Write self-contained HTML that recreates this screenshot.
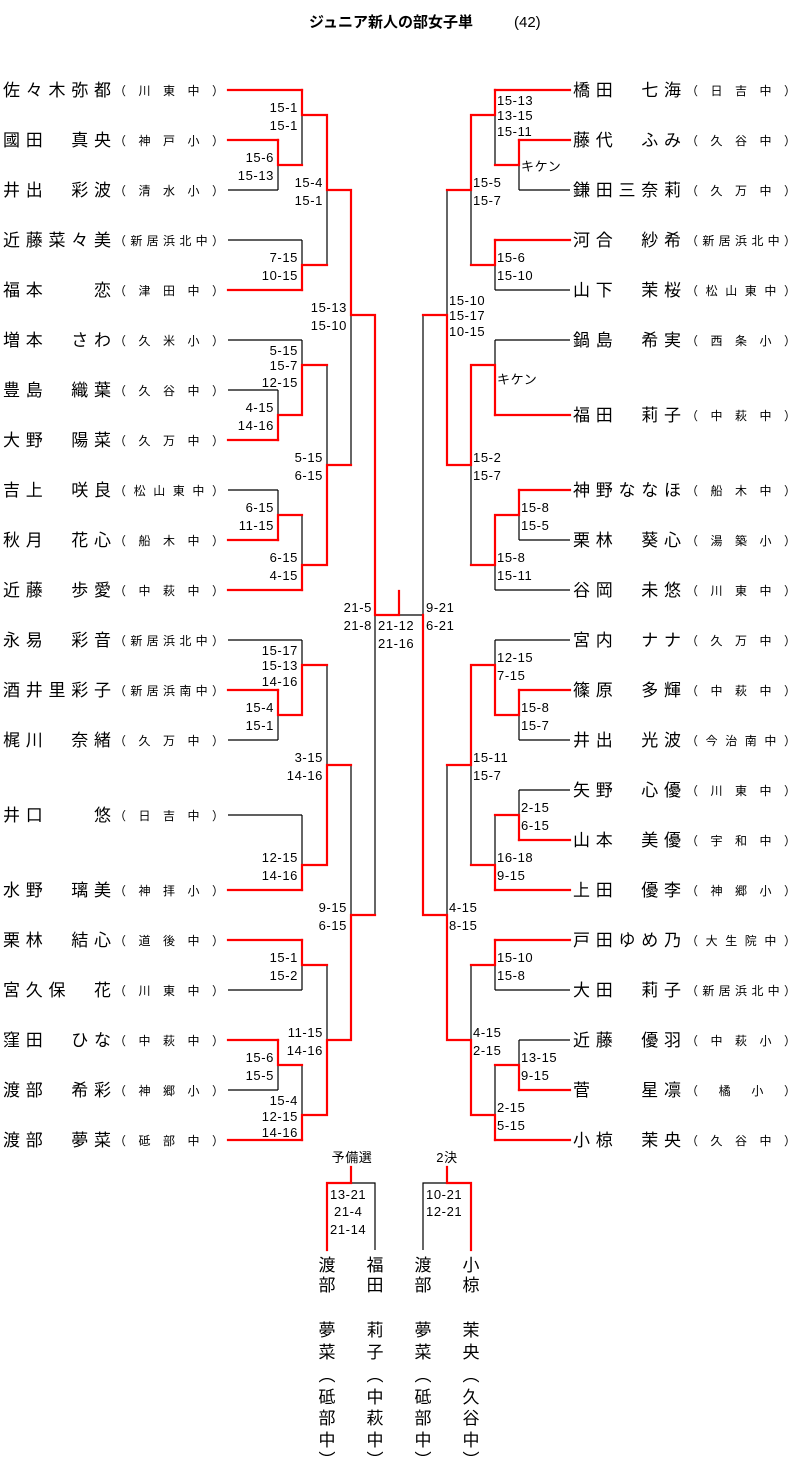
<!DOCTYPE html>
<html><head><meta charset="utf-8"><style>
html,body{margin:0;padding:0;background:#fff;}
svg{display:block;}
text{font-family:"Liberation Sans","Noto Sans CJK JP",sans-serif;fill:#000;}
.n{font-size:17px;}
.s{font-size:12px;}
.c{font-size:13px;letter-spacing:0.6px;}
.ce{font-size:13px;letter-spacing:0.6px;text-anchor:end;}
.v{font-size:17px;text-anchor:middle;}
</style></head><body>
<svg width="799" height="1471" viewBox="0 0 799 1471" xmlns="http://www.w3.org/2000/svg">
<text x="309" y="27" style="font-size:15px;font-weight:bold">ジュニア新人の部女子単</text>
<text x="514" y="27" style="font-size:15px">(42)</text>

<g fill="none" stroke="#000" stroke-width="1.2">
<path d="M228 190H278M228 240H302M228 340H302M228 390H278M228 490H278M228 640H302M228 740H278M228 815H302M228 990H302M228 1090H278"/>
<path d="M278 165V190M302 115V165M302 240V265M327 190V265M278 390V415M302 340V365M278 490V515M302 515V565M327 365V465M351 315V465M278 715V740M302 640V665M302 815V865M327 665V765M302 965V990M278 1065V1090M302 1065V1115M327 965V1040M351 765V915M375 615V915M399 615H423"/>
<path d="M519 190H570M495 290H570M495 340H570M519 540H570M495 590H570M495 640H570M519 740H570M519 790H570M495 990H570M519 1040H570"/>
<path d="M519 165V190M495 115V165M495 265V290M471 190V265M495 340V365M519 515V540M495 565V590M471 465V565M447 190V315M519 715V740M495 640V665M519 790V815M495 815V865M471 765V865M495 965V990M519 1040V1065M495 1065V1115M471 965V1040M447 765V915M423 315V615"/>
<path d="M351 1183H375V1250M447 1183H423V1250"/>
</g>
<g fill="none" stroke="#f00" stroke-width="2.2" stroke-linejoin="miter" stroke-linecap="square">
<path d="M228 90H302M228 140H278M228 290H302M228 440H278M228 540H278M228 590H302M228 690H278M228 890H302M228 940H302M228 1040H278M228 1140H302"/>
<path d="M278 140V165H302M302 90V115H327M302 290V265H327M327 115V190H351M278 440V415H302M302 415V365H327M278 540V515H302M302 590V565H327M327 565V465H351M351 190V315H375M278 690V715H302M302 715V665H327M302 890V865H327M327 865V765H351M302 940V965H327M278 1040V1065H302M302 1140V1115H327M327 1115V1040H351M351 1040V915H375M375 315V615H399M399 591V615"/>
<path d="M495 90H570M519 140H570M495 240H570M495 415H570M519 490H570M519 690H570M519 840H570M495 890H570M495 940H570M519 1090H570M495 1140H570"/>
<path d="M519 140V165H495M495 90V115H471M495 240V265H471M471 115V190H447M495 415V365H471M519 490V515H495M495 515V565H471M471 365V465H447M447 465V315H423M519 690V715H495M495 715V665H471M519 840V815H495M495 890V865H471M471 665V765H447M495 940V965H471M519 1090V1065H495M495 1140V1115H471M471 1115V1040H447M447 1040V915H423M423 915V615"/>
<path d="M351 1167V1183H327V1250M447 1167V1183H471V1250"/>
</g>

<g class="n">
<text x="3" y="96" textLength="108" lengthAdjust="spacing">佐々木弥都</text>
<text x="3" y="146" textLength="108" lengthAdjust="spacing">國田　真央</text>
<text x="3" y="196" textLength="108" lengthAdjust="spacing">井出　彩波</text>
<text x="3" y="246" textLength="108" lengthAdjust="spacing">近藤菜々美</text>
<text x="3" y="296" textLength="108" lengthAdjust="spacing">福本　　恋</text>
<text x="3" y="346" textLength="108" lengthAdjust="spacing">増本　さわ</text>
<text x="3" y="396" textLength="108" lengthAdjust="spacing">豊島　織葉</text>
<text x="3" y="446" textLength="108" lengthAdjust="spacing">大野　陽菜</text>
<text x="3" y="496" textLength="108" lengthAdjust="spacing">吉上　咲良</text>
<text x="3" y="546" textLength="108" lengthAdjust="spacing">秋月　花心</text>
<text x="3" y="596" textLength="108" lengthAdjust="spacing">近藤　歩愛</text>
<text x="3" y="646" textLength="108" lengthAdjust="spacing">永易　彩音</text>
<text x="3" y="696" textLength="108" lengthAdjust="spacing">酒井里彩子</text>
<text x="3" y="746" textLength="108" lengthAdjust="spacing">梶川　奈緒</text>
<text x="3" y="821" textLength="108" lengthAdjust="spacing">井口　　悠</text>
<text x="3" y="896" textLength="108" lengthAdjust="spacing">水野　璃美</text>
<text x="3" y="946" textLength="108" lengthAdjust="spacing">栗林　結心</text>
<text x="3" y="996" textLength="108" lengthAdjust="spacing">宮久保　花</text>
<text x="3" y="1046" textLength="108" lengthAdjust="spacing">窪田　ひな</text>
<text x="3" y="1096" textLength="108" lengthAdjust="spacing">渡部　希彩</text>
<text x="3" y="1146" textLength="108" lengthAdjust="spacing">渡部　夢菜</text>
</g>
<g class="s">
<text x="114" y="95" textLength="110" lengthAdjust="spacing">（川東中）</text>
<text x="114" y="145" textLength="110" lengthAdjust="spacing">（神戸小）</text>
<text x="114" y="195" textLength="110" lengthAdjust="spacing">（清水小）</text>
<text x="114" y="245" textLength="110" lengthAdjust="spacing">（新居浜北中）</text>
<text x="114" y="295" textLength="110" lengthAdjust="spacing">（津田中）</text>
<text x="114" y="345" textLength="110" lengthAdjust="spacing">（久米小）</text>
<text x="114" y="395" textLength="110" lengthAdjust="spacing">（久谷中）</text>
<text x="114" y="445" textLength="110" lengthAdjust="spacing">（久万中）</text>
<text x="114" y="495" textLength="110" lengthAdjust="spacing">（松山東中）</text>
<text x="114" y="545" textLength="110" lengthAdjust="spacing">（船木中）</text>
<text x="114" y="595" textLength="110" lengthAdjust="spacing">（中萩中）</text>
<text x="114" y="645" textLength="110" lengthAdjust="spacing">（新居浜北中）</text>
<text x="114" y="695" textLength="110" lengthAdjust="spacing">（新居浜南中）</text>
<text x="114" y="745" textLength="110" lengthAdjust="spacing">（久万中）</text>
<text x="114" y="820" textLength="110" lengthAdjust="spacing">（日吉中）</text>
<text x="114" y="895" textLength="110" lengthAdjust="spacing">（神拝小）</text>
<text x="114" y="945" textLength="110" lengthAdjust="spacing">（道後中）</text>
<text x="114" y="995" textLength="110" lengthAdjust="spacing">（川東中）</text>
<text x="114" y="1045" textLength="110" lengthAdjust="spacing">（中萩中）</text>
<text x="114" y="1095" textLength="110" lengthAdjust="spacing">（神郷小）</text>
<text x="114" y="1145" textLength="110" lengthAdjust="spacing">（砥部中）</text>
</g>

<g class="n">
<text x="573" y="96" textLength="108" lengthAdjust="spacing">橋田　七海</text>
<text x="573" y="146" textLength="108" lengthAdjust="spacing">藤代　ふみ</text>
<text x="573" y="196" textLength="108" lengthAdjust="spacing">鎌田三奈莉</text>
<text x="573" y="246" textLength="108" lengthAdjust="spacing">河合　紗希</text>
<text x="573" y="296" textLength="108" lengthAdjust="spacing">山下　茉桜</text>
<text x="573" y="346" textLength="108" lengthAdjust="spacing">鍋島　希実</text>
<text x="573" y="421" textLength="108" lengthAdjust="spacing">福田　莉子</text>
<text x="573" y="496" textLength="108" lengthAdjust="spacing">神野ななほ</text>
<text x="573" y="546" textLength="108" lengthAdjust="spacing">栗林　葵心</text>
<text x="573" y="596" textLength="108" lengthAdjust="spacing">谷岡　未悠</text>
<text x="573" y="646" textLength="108" lengthAdjust="spacing">宮内　ナナ</text>
<text x="573" y="696" textLength="108" lengthAdjust="spacing">篠原　多輝</text>
<text x="573" y="746" textLength="108" lengthAdjust="spacing">井出　光波</text>
<text x="573" y="796" textLength="108" lengthAdjust="spacing">矢野　心優</text>
<text x="573" y="846" textLength="108" lengthAdjust="spacing">山本　美優</text>
<text x="573" y="896" textLength="108" lengthAdjust="spacing">上田　優李</text>
<text x="573" y="946" textLength="108" lengthAdjust="spacing">戸田ゆめ乃</text>
<text x="573" y="996" textLength="108" lengthAdjust="spacing">大田　莉子</text>
<text x="573" y="1046" textLength="108" lengthAdjust="spacing">近藤　優羽</text>
<text x="573" y="1096" textLength="108" lengthAdjust="spacing">菅　　星凛</text>
<text x="573" y="1146" textLength="108" lengthAdjust="spacing">小椋　茉央</text>
</g>
<g class="s">
<text x="686" y="95" textLength="110" lengthAdjust="spacing">（日吉中）</text>
<text x="686" y="145" textLength="110" lengthAdjust="spacing">（久谷中）</text>
<text x="686" y="195" textLength="110" lengthAdjust="spacing">（久万中）</text>
<text x="686" y="245" textLength="110" lengthAdjust="spacing">（新居浜北中）</text>
<text x="686" y="295" textLength="110" lengthAdjust="spacing">（松山東中）</text>
<text x="686" y="345" textLength="110" lengthAdjust="spacing">（西条小）</text>
<text x="686" y="420" textLength="110" lengthAdjust="spacing">（中萩中）</text>
<text x="686" y="495" textLength="110" lengthAdjust="spacing">（船木中）</text>
<text x="686" y="545" textLength="110" lengthAdjust="spacing">（湯築小）</text>
<text x="686" y="595" textLength="110" lengthAdjust="spacing">（川東中）</text>
<text x="686" y="645" textLength="110" lengthAdjust="spacing">（久万中）</text>
<text x="686" y="695" textLength="110" lengthAdjust="spacing">（中萩中）</text>
<text x="686" y="745" textLength="110" lengthAdjust="spacing">（今治南中）</text>
<text x="686" y="795" textLength="110" lengthAdjust="spacing">（川東中）</text>
<text x="686" y="845" textLength="110" lengthAdjust="spacing">（宇和中）</text>
<text x="686" y="895" textLength="110" lengthAdjust="spacing">（神郷小）</text>
<text x="686" y="945" textLength="110" lengthAdjust="spacing">（大生院中）</text>
<text x="686" y="995" textLength="110" lengthAdjust="spacing">（新居浜北中）</text>
<text x="686" y="1045" textLength="110" lengthAdjust="spacing">（中萩小）</text>
<text x="686" y="1095" textLength="110" lengthAdjust="spacing">（橘小）</text>
<text x="686" y="1145" textLength="110" lengthAdjust="spacing">（久谷中）</text>
</g>

<g class="ce">
<text x="298" y="112">15-1</text><text x="298" y="130">15-1</text>
<text x="274" y="162">15-6</text><text x="274" y="180">15-13</text>
<text x="323" y="187">15-4</text><text x="323" y="205">15-1</text>
<text x="298" y="262">7-15</text><text x="298" y="280">10-15</text>
<text x="347" y="312">15-13</text><text x="347" y="330">15-10</text>
<text x="298" y="355">5-15</text><text x="298" y="370">15-7</text><text x="298" y="387">12-15</text>
<text x="274" y="412">4-15</text><text x="274" y="430">14-16</text>
<text x="323" y="462">5-15</text><text x="323" y="480">6-15</text>
<text x="274" y="512">6-15</text><text x="274" y="530">11-15</text>
<text x="298" y="562">6-15</text><text x="298" y="580">4-15</text>
<text x="372" y="612">21-5</text><text x="372" y="630">21-8</text>
<text x="298" y="655">15-17</text><text x="298" y="670">15-13</text><text x="298" y="686">14-16</text>
<text x="274" y="712">15-4</text><text x="274" y="730">15-1</text>
<text x="323" y="762">3-15</text><text x="323" y="780">14-16</text>
<text x="298" y="862">12-15</text><text x="298" y="880">14-16</text>
<text x="347" y="912">9-15</text><text x="347" y="930">6-15</text>
<text x="298" y="962">15-1</text><text x="298" y="980">15-2</text>
<text x="323" y="1037">11-15</text><text x="323" y="1055">14-16</text>
<text x="274" y="1062">15-6</text><text x="274" y="1080">15-5</text>
<text x="298" y="1105">15-4</text><text x="298" y="1121">12-15</text><text x="298" y="1137">14-16</text>
</g>
<g class="c">
<text x="378" y="630">21-12</text><text x="378" y="648">21-16</text>
<text x="426" y="612">9-21</text><text x="426" y="630">6-21</text>
<text x="497" y="105">15-13</text><text x="497" y="120">13-15</text><text x="497" y="136">15-11</text>
<text x="521" y="171">キケン</text>
<text x="473" y="187">15-5</text><text x="473" y="205">15-7</text>
<text x="497" y="262">15-6</text><text x="497" y="280">15-10</text>
<text x="449" y="305">15-10</text><text x="449" y="320">15-17</text><text x="449" y="336">10-15</text>
<text x="497" y="384">キケン</text>
<text x="473" y="462">15-2</text><text x="473" y="480">15-7</text>
<text x="521" y="512">15-8</text><text x="521" y="530">15-5</text>
<text x="497" y="562">15-8</text><text x="497" y="580">15-11</text>
<text x="497" y="662">12-15</text><text x="497" y="680">7-15</text>
<text x="521" y="712">15-8</text><text x="521" y="730">15-7</text>
<text x="473" y="762">15-11</text><text x="473" y="780">15-7</text>
<text x="521" y="812">2-15</text><text x="521" y="830">6-15</text>
<text x="497" y="862">16-18</text><text x="497" y="880">9-15</text>
<text x="449" y="912">4-15</text><text x="449" y="930">8-15</text>
<text x="497" y="962">15-10</text><text x="497" y="980">15-8</text>
<text x="473" y="1037">4-15</text><text x="473" y="1055">2-15</text>
<text x="521" y="1062">13-15</text><text x="521" y="1080">9-15</text>
<text x="497" y="1112">2-15</text><text x="497" y="1130">5-15</text>
<text x="330" y="1199">13-21</text><text x="334" y="1216">21-4</text><text x="330" y="1234">21-14</text>
<text x="426" y="1199">10-21</text><text x="426" y="1216">12-21</text>
<text x="352" y="1162" style="text-anchor:middle">予備選</text>
<text x="447" y="1162" style="text-anchor:middle">2決</text>
</g>

<g class="v">
<text x="327" y="1271">渡</text><text x="327" y="1291">部</text><text x="327" y="1336">夢</text><text x="327" y="1358">菜</text><text x="327" y="1381">︵</text><text x="327" y="1403">砥</text><text x="327" y="1424">部</text><text x="327" y="1446">中</text><text x="327" y="1466">︶</text>
<text x="375" y="1271">福</text><text x="375" y="1291">田</text><text x="375" y="1336">莉</text><text x="375" y="1358">子</text><text x="375" y="1381">︵</text><text x="375" y="1403">中</text><text x="375" y="1424">萩</text><text x="375" y="1446">中</text><text x="375" y="1466">︶</text>
<text x="423" y="1271">渡</text><text x="423" y="1291">部</text><text x="423" y="1336">夢</text><text x="423" y="1358">菜</text><text x="423" y="1381">︵</text><text x="423" y="1403">砥</text><text x="423" y="1424">部</text><text x="423" y="1446">中</text><text x="423" y="1466">︶</text>
<text x="471" y="1271">小</text><text x="471" y="1291">椋</text><text x="471" y="1336">茉</text><text x="471" y="1358">央</text><text x="471" y="1381">︵</text><text x="471" y="1403">久</text><text x="471" y="1424">谷</text><text x="471" y="1446">中</text><text x="471" y="1466">︶</text>
</g>
</svg>
</body></html>
